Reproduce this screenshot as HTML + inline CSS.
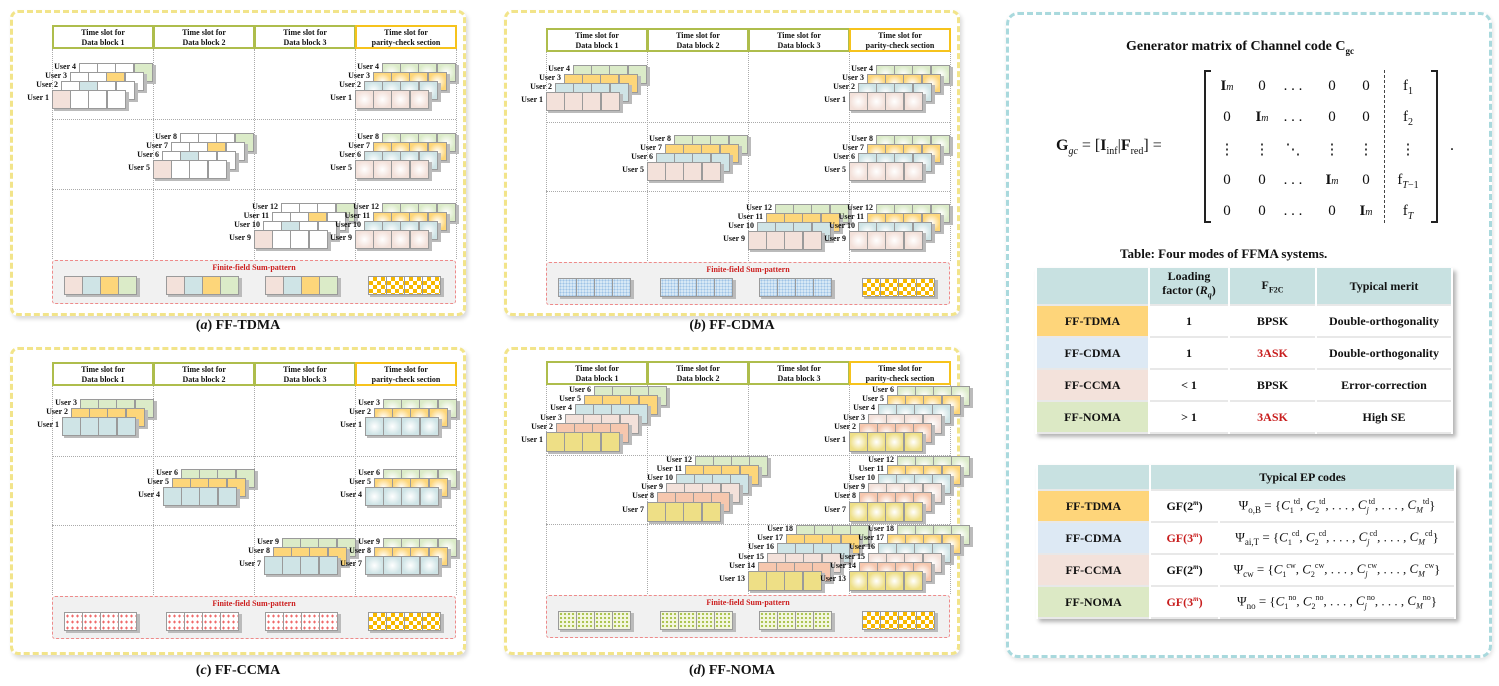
<!DOCTYPE html>
<html><head><meta charset="utf-8">
<style>
*{margin:0;padding:0;box-sizing:border-box}
body{width:1499px;height:686px;background:#fff;position:relative;overflow:hidden;font-family:"Liberation Serif",serif;color:#111}
.a{position:absolute}
.pbox{position:absolute;border:3px dashed #f2e48a;border-radius:8px;box-shadow:2px 3px 4px rgba(0,0,0,.15)}
.hd{position:absolute;background:#fff;border:2px solid #aebd4c;font-weight:bold;font-size:8px;text-align:center;line-height:10px;padding-top:1px}
.hd.par{border-color:#f6c31c}
.vl{position:absolute;border-left:1px dotted #aaa}
.hl{position:absolute;border-top:1px dotted #aaa}
.cell{position:absolute;border:1px solid #9a9a9a}
.lab{position:absolute;font-weight:bold;font-size:8px;white-space:nowrap;text-align:right;width:40px}
.sum{position:absolute;background:#f1f1f1;border:1px dashed #ee8a8a;border-radius:3px}
.sumt{position:absolute;color:#cc1f1f;font-weight:bold;font-size:8px;text-align:center}
.cap{position:absolute;font-weight:bold;font-size:14px;text-align:center;width:300px}
.rbox{position:absolute;left:1006px;top:12px;width:486px;height:646px;border:3px dashed #a9d9dd;border-radius:12px;box-shadow:1px 2px 4px rgba(0,0,0,.12)}
table{border-collapse:separate;border-spacing:2px 0;position:absolute;box-shadow:3px 3px 4px rgba(0,0,0,.3);font-weight:bold;font-size:12px;text-align:center}
td{border-bottom:2px solid #e8e8e8}
.h{background:#c8e1e1}
.c1{background:#fed57a}.c2{background:#dde9f4}.c3{background:#f3e2db}.c4{background:#dce9c5}
.red{color:#c81e1e}
.m{position:absolute;font-size:15px;text-align:center;width:30px}
b.I{font-weight:bold}
</style></head><body>
<div id="root"></div>

<div class="rbox"></div>
<div class="a" style="left:1126px;top:39px;font-weight:bold;font-size:14px">Generator matrix of Channel code C<sub style="font-size:9px">gc</sub></div>
<div class="a" style="left:1056px;top:137px;font-size:16px"><b>G</b><sub style="font-size:10px"><i>gc</i></sub> = [<b>I</b><sub style="font-size:10px">inf</sub>|<b>F</b><sub style="font-size:10px">red</sub>] =</div>
<div class="a" style="left:1204px;top:70px;width:7px;height:153px;border:2px solid #222;border-right:none"></div>
<div class="a" style="left:1431px;top:70px;width:7px;height:153px;border:2px solid #222;border-left:none"></div>
<div class="a" style="left:1384px;top:70px;height:153px;border-left:1px dashed #444"></div>
<div class="a" style="left:1450px;top:137px;font-size:16px">.</div>
<div id="mat"></div>

<div class="a" style="left:1120px;top:246px;font-weight:bold;font-size:13px">Table: Four modes of FFMA systems.</div>
<table style="left:1035px;top:268px;width:418px;">
<tr style="height:38px"><td class="h" style="width:111px"></td><td class="h" style="width:78px;line-height:14px">Loading<br>factor (<i>R<sub style="font-size:8px">q</sub></i>)</td><td class="h" style="width:85px">F<sub style="font-size:8px">F2C</sub></td><td class="h">Typical merit</td></tr>
<tr style="height:32px"><td class="c1">FF-TDMA</td><td>1</td><td>BPSK</td><td>Double-orthogonality</td></tr>
<tr style="height:32px"><td class="c2">FF-CDMA</td><td>1</td><td class="red">3ASK</td><td>Double-orthogonality</td></tr>
<tr style="height:32px"><td class="c3">FF-CCMA</td><td>&lt; 1</td><td>BPSK</td><td>Error-correction</td></tr>
<tr style="height:32px"><td class="c4">FF-NOMA</td><td>&gt; 1</td><td class="red">3ASK</td><td>High SE</td></tr>
</table>
<table style="left:1036px;top:465px;width:420px;">
<tr style="height:26px"><td class="h" style="width:111px"></td><td class="h" colspan="2">Typical EP codes</td></tr>
<tr style="height:32px"><td class="c1">FF-TDMA</td><td style="width:67px">GF(2<sup style="font-size:7px"><i>m</i></sup>)</td><td class="ps" style="font-weight:normal;font-size:13px">Ψ<sub style="font-size:9px">o,B</sub> = {<i>C</i><sub>1</sub><sup>td</sup>, <i>C</i><sub>2</sub><sup>td</sup>, . . . , <i>C<sub>j</sub></i><sup>td</sup>, . . . , <i>C<sub>M</sub></i><sup>td</sup>}</td></tr>
<tr style="height:32px"><td class="c2">FF-CDMA</td><td class="red">GF(3<sup style="font-size:7px"><i>m</i></sup>)</td><td style="font-weight:normal;font-size:13px">Ψ<sub style="font-size:9px">ai,T</sub> = {<i>C</i><sub>1</sub><sup>cd</sup>, <i>C</i><sub>2</sub><sup>cd</sup>, . . . , <i>C<sub>j</sub></i><sup>cd</sup>, . . . , <i>C<sub>M</sub></i><sup>cd</sup>}</td></tr>
<tr style="height:32px"><td class="c3">FF-CCMA</td><td>GF(2<sup style="font-size:7px"><i>m</i></sup>)</td><td style="font-weight:normal;font-size:13px">Ψ<sub style="font-size:9px">cw</sub> = {<i>C</i><sub>1</sub><sup>cw</sup>, <i>C</i><sub>2</sub><sup>cw</sup>, . . . , <i>C<sub>j</sub></i><sup>cw</sup>, . . . , <i>C<sub>M</sub></i><sup>cw</sup>}</td></tr>
<tr style="height:32px"><td class="c4">FF-NOMA</td><td class="red">GF(3<sup style="font-size:7px"><i>m</i></sup>)</td><td style="font-weight:normal;font-size:13px">Ψ<sub style="font-size:9px">no</sub> = {<i>C</i><sub>1</sub><sup>no</sup>, <i>C</i><sub>2</sub><sup>no</sup>, . . . , <i>C<sub>j</sub></i><sup>no</sup>, . . . , <i>C<sub>M</sub></i><sup>no</sup>}</td></tr>
</table>
<style>table sub,table sup{font-size:8px}</style>

<script>
// matrix
(function(){
 var cols=[1227,1262,1293,1332,1366,1408], rows=[78,109,140,172,203];
 var I='<b>I</b><i style="font-size:10px">m</i>';
 var M=[[I,'0','. . .','0','0','f<sub style="font-size:10px">1</sub>'],
 ['0',I,'. . .','0','0','f<sub style="font-size:10px">2</sub>'],
 ['⋮','⋮','⋱','⋮','⋮','⋮'],
 ['0','0','. . .',I,'0','f<sub style="font-size:10px"><i>T</i>−1</sub>'],
 ['0','0','. . .','0',I,'f<sub style="font-size:10px"><i>T</i></sub>']];
 var h='';
 for(var r=0;r<5;r++)for(var c=0;c<6;c++)h+='<div class="m" style="left:'+(cols[c]-15)+'px;top:'+rows[r]+'px;width:'+(c==5?44:30)+'px;margin-left:'+(c==5?-7:0)+'px">'+M[r][c]+'</div>';
 document.getElementById('mat').innerHTML=h;
})();

var P='#f3e1da',B='#cfe4e6',O='#fdd67a',G='#dbebc8',Y='#eedf86',S='#f6c7ae';
var out='';
function add(s){out+=s;}
function cell(x,y,w,h,bg,extra){add('<div class="cell" style="left:'+x+'px;top:'+y+'px;width:'+w+'px;height:'+h+'px;background:'+bg+';'+(extra||'')+'"></div>');}
function panel(ox,oy,o){
 // o: hdrTop, rowH, xoff,yoff,n,dx,dy,colors,mode,caption,sumbg
 var X0=ox+52, cw=101, ht=oy+o.ht;
 add('<div class="pbox" style="left:'+(ox+10)+'px;top:'+(oy+o.bt)+'px;width:456px;height:'+o.bh+'px"></div>');
 var hdT=['Time slot for<br>Data block 1','Time slot for<br>Data block 2','Time slot for<br>Data block 3','Time slot for<br>parity-check section'];
 for(var i=0;i<4;i++)add('<div class="hd'+(i==3?' par':'')+'" style="left:'+(X0+cw*i)+'px;top:'+ht+'px;width:'+(cw+1)+'px;height:24px">'+hdT[i]+'</div>');
 var r0=ht+24, rh=o.rh;
 for(var i=0;i<5;i++)add('<div class="vl" style="left:'+(X0+cw*i)+'px;top:'+r0+'px;height:'+(rh*3)+'px"></div>');
 for(var i=1;i<3;i++)add('<div class="hl" style="left:'+X0+'px;top:'+(r0+rh*i)+'px;width:'+(cw*4)+'px"></div>');
 // stacks
 var n=o.n,cellW=18.2,cellH=o.ch;
 for(var r=0;r<3;r++){
  for(var side=0;side<2;side++){
   var col=side?3:r;
   var fx=X0+cw*col+o.xoff, fy=r0+rh*r+o.yoff;
   for(var k=n-1;k>=0;k--){
    var lx=fx+o.dx*k, ly=fy-o.dy*k;
    add('<div class="a" style="left:'+(lx+2)+'px;top:'+(ly+2)+'px;width:'+(cellW*4+2)+'px;height:'+cellH+'px;background:#bbb"></div>');
    for(var c=0;c<4;c++){
     var bg;
     if(side) bg='radial-gradient(circle,#fff 0,'+o.colors[k]+' 70%)';
     else if(o.mode=='td') bg=(c==k?o.colors[k]:'#fff');
     else bg=o.colors[k];
     cell(Math.round(lx+cellW*c),Math.round(ly),Math.round(cellW+1),cellH,bg);
    }
    add('<div class="lab" style="left:'+Math.round(lx-43)+'px;top:'+Math.round(ly+(k==0?3:-1))+'px">User '+(r*n+k+1)+'</div>');
   }
  }
 }
 // sum
 var st=r0+rh*3+1;
 add('<div class="sum" style="left:'+X0+'px;top:'+st+'px;width:'+(cw*4)+'px;height:'+o.sh+'px"></div>');
 add('<div class="sumt" style="left:'+X0+'px;top:'+(st+3)+'px;width:'+(cw*4)+'px">Finite-field Sum-pattern</div>');
 var sx=[12,114,213,316], sy=st+16;
 for(var i=0;i<4;i++){
  add('<div class="a" style="left:'+(X0+sx[i]+2)+'px;top:'+(sy+2)+'px;width:74px;height:19px;background:#bbb"></div>');
  for(var c=0;c<4;c++){
   var bg;
   if(i==3) bg='repeating-conic-gradient(#f7b800 0 25%,#fff 0 50%) 0 0/8px 8px';
   else if(o.mode=='td') bg=[P,B,O,G][c];
   else bg=o.sumbg;
   cell(X0+sx[i]+c*18,sy,19,19,bg);
  }
 }
 add('<div class="cap" style="left:'+(ox+88)+'px;top:'+(oy+o.capy)+'px">('+'<i>'+o.cap[0]+'</i>) '+o.cap[1]+'</div>');
}
panel(0,0,{bt:10,bh:306,ht:25,rh:70,xoff:0,yoff:41,n:4,dx:9,dy:9,ch:19,colors:[P,B,O,G],mode:'td',sh:44,capy:318,cap:['a','FF-TDMA']});
panel(494,0,{bt:10,bh:306,ht:28,rh:69.5,xoff:0,yoff:40,n:4,dx:9,dy:9,ch:19,colors:[P,B,O,G],mode:'cd',sumbg:'radial-gradient(#9fc3e6 1px,#d7e8f5 1px) 0 0/3px 3px',sh:43,capy:318,cap:['b','FF-CDMA']});
panel(0,337,{bt:10,bh:308,ht:25,rh:69.5,xoff:10,yoff:31,n:3,dx:9,dy:9,ch:19,colors:[B,O,G],mode:'cc',sumbg:'radial-gradient(#f06a6a 1px,#fff 1.3px) 0 0/5px 6px',sh:43,capy:326,cap:['c','FF-CCMA']});
panel(494,337,{bt:10,bh:308,ht:24,rh:69.5,xoff:0,yoff:47,n:6,dx:9.5,dy:9.2,ch:20,colors:[Y,S,P,B,O,G],mode:'no',sumbg:'radial-gradient(#a9c24a 1px,#f3f6e0 1.3px) 0 0/4px 4px',sh:43,capy:326,cap:['d','FF-NOMA']});
document.getElementById('root').innerHTML=out;
</script>
</body></html>
